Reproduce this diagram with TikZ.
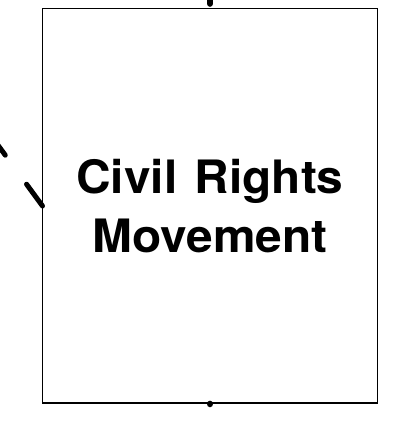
\documentclass[tikz,border=0pt]{standalone}
\usepackage{fontspec}
\newfontfamily\herosfont{TeX Gyre Heros}[FakeStretch=1.04,WordSpace=1.3]
\begin{document}
\begin{tikzpicture}[x=1pt,y=-1pt,
  box/.style={draw=black,line width=1.8pt,rectangle,inner sep=0pt,
    minimum width=335pt,minimum height=394.5pt,align=center,
    font=\herosfont\bfseries\fontsize{46}{59}\selectfont},
  dashlink/.style={line width=5pt,line cap=round,dash pattern=on 27pt off 36pt},
  stub/.style={line width=6.5pt,line cap=round}]
\useasboundingbox (0,0) rectangle (393,421);
\node[box] (crm) at (210,205.75) {Civil Rights\\Movement};
\coordinate (dl) at (-30,107);
\coordinate (tp) at (210,-12);
\coordinate (bt) at (210,404);
\draw[dashlink] (42.5,206) -- (dl);
\draw[stub] (crm.north) ++(0,-4) -- (tp);
\draw[stub] (crm.south) -- (bt);
\end{tikzpicture}
\end{document}
